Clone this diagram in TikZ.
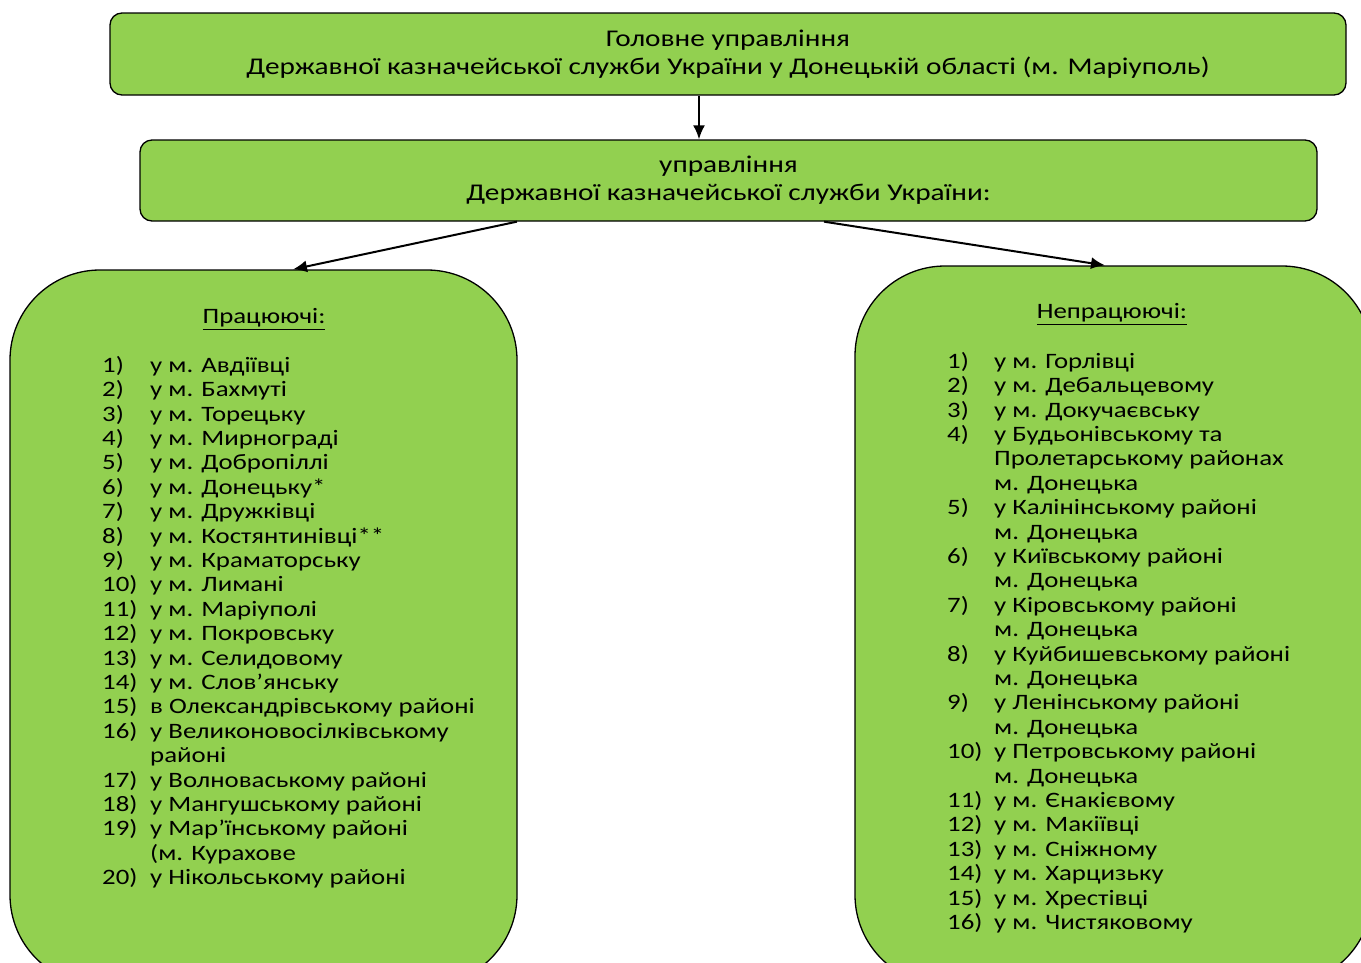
\documentclass[tikz,border=0pt]{standalone}
\usepackage{fontspec}
\setmainfont{Carlito}[FakeStretch=1.22]
\usetikzlibrary{arrows.meta}
\definecolor{boxgreen}{HTML}{92D050}
\tikzset{
	box/.style={draw=black,line width=1.3pt,fill=boxgreen,rounded corners=12pt,align=center,inner sep=0pt,font=\fontsize{24}{28}\selectfont},
	bigbox/.style={draw=black,line width=1.3pt,fill=boxgreen,rounded corners=90pt,inner sep=0pt},
	head/.style={font=\fontsize{22}{26}\selectfont},
	list/.style={anchor=north west,inner sep=0pt,font=\fontsize{22}{24.4}\selectfont},
	link/.style={line width=2pt,-{Latex[length=14pt,width=12pt]}}
}
\begin{document}
\begin{tikzpicture}[x=1pt,y=-1pt]
	\useasboundingbox (0,0) rectangle (1361,962);
	\node[box,minimum width=1236pt,minimum height=82pt] (top) at (728,54) {Головне управління\\Державної казначейської служби України у Донецькій області (м. Маріуполь)};
	\node[box,minimum width=1177pt,minimum height=81pt] (mid) at (728.5,180.5) {управління\\Державної казначейської служби України:};
	\node[bigbox,minimum width=507pt,minimum height=715pt] (work) at (263.5,627.5) {};
	\node[bigbox,minimum width=517pt,minimum height=719pt] (idle) at (1113.5,625.5) {};
	\draw[link] (top.south -| 699,0) -- (mid.north -| 699,0);
	\draw[link] (mid.south -| 517,0) -- (work.north -| 293,0);
	\draw[link] (mid.south -| 824,0) -- (idle.north -| 1105,0);
	\node[head] (workhead) at (264,319) {\underline{Працюючі:}};
	\node[head] (idlehead) at (1112,314) {\underline{Непрацюючі:}};
	\node[list] (worklist) at (102,355) {\begin{tabular}{@{}p{48pt}@{}l@{}}
		1) & у м. Авдіївці\\
		2) & у м. Бахмуті\\
		3) & у м. Торецьку\\
		4) & у м. Мирнограді\\
		5) & у м. Добропіллі\\
		6) & у м. Донецьку*\\
		7) & у м. Дружківці\\
		8) & у м. Костянтинівці**\\
		9) & у м. Краматорську\\
		10) & у м. Лимані\\
		11) & у м. Маріуполі\\
		12) & у м. Покровську\\
		13) & у м. Селидовому\\
		14) & у м. Слов’янську\\
		15) & в Олександрівському районі\\
		16) & у Великоновосілківському\\
		& районі\\
		17) & у Волноваському районі\\
		18) & у Мангушському районі\\
		19) & у Мар’їнському районі\\
		& (м. Курахове\\
		20) & у Нікольському районі
	\end{tabular}};
	\node[list] (idlelist) at (947,351) {\begin{tabular}{@{}p{47pt}@{}l@{}}
		1) & у м. Горлівці\\
		2) & у м. Дебальцевому\\
		3) & у м. Докучаєвську\\
		4) & у Будьонівському та\\
		& Пролетарському районах\\
		& м. Донецька\\
		5) & у Калінінському районі\\
		& м. Донецька\\
		6) & у Київському районі\\
		& м. Донецька\\
		7) & у Кіровському районі\\
		& м. Донецька\\
		8) & у Куйбишевському районі\\
		& м. Донецька\\
		9) & у Ленінському районі\\
		& м. Донецька\\
		10) & у Петровському районі\\
		& м. Донецька\\
		11) & у м. Єнакієвому\\
		12) & у м. Макіївці\\
		13) & у м. Сніжному\\
		14) & у м. Харцизьку\\
		15) & у м. Хрестівці\\
		16) & у м. Чистяковому
	\end{tabular}};
\end{tikzpicture}
\end{document}
